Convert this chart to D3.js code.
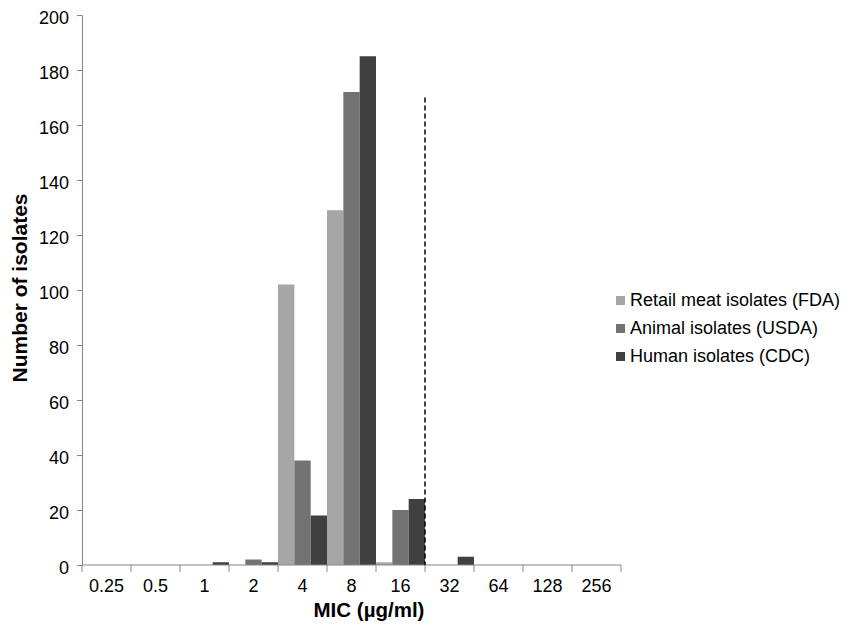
<!DOCTYPE html>
<html>
<head>
<meta charset="utf-8">
<script src="https://cdn.jsdelivr.net/npm/d3@7"></script>
<style>
  body { margin: 0; background: #fff; }
  text { font-family: "Liberation Sans", Arial, sans-serif; }
</style>
</head>
<body>
<div class="chart"></div>
<script>
var svgWidth = 846;
var svgHeight = 628;

// MIC categories and counts per source
var micLabels = ["0.25", "0.5", "1", "2", "4", "8", "16", "32", "64", "128", "256"];
var seriesNames = ["Retail meat isolates (FDA)", "Animal isolates (USDA)", "Human isolates (CDC)"];
var retailMeat = [0, 0, 0, 0, 102, 129, 1, 0, 0, 0, 0];
var animal     = [0, 0, 0, 2, 38, 172, 20, 0, 0, 0, 0];
var human      = [0, 0, 1, 1, 18, 185, 24, 3, 0, 0, 0];
var seriesColors = ["#a6a6a6", "#737373", "#404040"];
var yTicks = [0, 20, 40, 60, 80, 100, 120, 140, 160, 180, 200];
var breakpoint = 170; // height of dashed line

var margin = { top: 15, left: 82 };
var width = 539;
var height = 550;

var svg = d3.select(".chart")
  .append("svg")
  .attr("width", svgWidth)
  .attr("height", svgHeight);

var chartGroup = svg.append("g")
  .attr("transform", `translate(${margin.left}, ${margin.top})`);

var x_scale = d3.scaleBand()
  .domain(micLabels)
  .range([0, width])
  .padding(0);

var x_inner = d3.scaleBand()
  .domain(d3.range(seriesNames.length))
  .range([0, x_scale.bandwidth()])
  .padding(0);

var y_scale = d3.scaleLinear()
  .domain([0, 200])
  .range([height, 0]);

var allSeries = [retailMeat, animal, human];

// bars
allSeries.forEach(function (values, si) {
  chartGroup.append("g")
    .selectAll("rect")
    .data(values)
    .enter()
    .append("rect")
    .attr("x", (d, i) => x_scale(micLabels[i]) + x_inner(si))
    .attr("y", d => y_scale(d))
    .attr("width", x_inner.bandwidth())
    .attr("height", d => height - y_scale(d))
    .attr("fill", seriesColors[si]);
});

// y axis
var leftAxis = d3.axisLeft(y_scale).tickValues(yTicks).tickSize(5).tickPadding(8);
var yG = chartGroup.append("g").call(leftAxis);
yG.select(".domain").attr("stroke", "#868686");
yG.selectAll(".tick line").attr("stroke", "#868686");
yG.selectAll(".tick text")
  .attr("font-size", 18)
  .attr("fill", "#000")
  .attr("dy", "0.45em")
  .style("font-family", "Liberation Sans, Arial, sans-serif");

// x axis with ticks at category boundaries
var xG = chartGroup.append("g")
  .attr("transform", `translate(0, ${height})`);
xG.append("line")
  .attr("x1", 0).attr("x2", width)
  .attr("stroke", "#868686");
xG.selectAll(".bt")
  .data(d3.range(micLabels.length + 1))
  .enter()
  .append("line")
  .attr("x1", i => i * x_scale.step())
  .attr("x2", i => i * x_scale.step())
  .attr("y1", 0).attr("y2", 7)
  .attr("stroke", "#868686");
xG.selectAll(".lbl")
  .data(micLabels)
  .enter()
  .append("text")
  .attr("x", d => x_scale(d) + x_scale.bandwidth() / 2)
  .attr("y", 27)
  .attr("text-anchor", "middle")
  .attr("font-size", 18)
  .text(d => d);

// dashed breakpoint line between 16 and 32
var bx = x_scale("32");
chartGroup.append("line")
  .attr("x1", bx).attr("x2", bx)
  .attr("y1", y_scale(breakpoint)).attr("y2", height)
  .attr("stroke", "#000")
  .attr("stroke-width", 1.5)
  .attr("stroke-dasharray", "5,3");

// axis titles
svg.append("text")
  .attr("transform", "translate(27, 288) rotate(-90)")
  .attr("text-anchor", "middle")
  .attr("font-size", 21)
  .attr("font-weight", "bold")
  .text("Number of isolates");

svg.append("text")
  .attr("x", 369)
  .attr("y", 617)
  .attr("text-anchor", "middle")
  .attr("font-size", 20.5)
  .attr("font-weight", "bold")
  .text("MIC (µg/ml)");

// legend
var legend = svg.append("g").attr("transform", "translate(616, 296)");
seriesNames.forEach(function (name, i) {
  var row = legend.append("g").attr("transform", `translate(0, ${i * 28})`);
  row.append("rect")
    .attr("x", 0).attr("y", 0)
    .attr("width", 9).attr("height", 9)
    .attr("fill", seriesColors[i]);
  row.append("text")
    .attr("x", 14).attr("y", 10)
    .attr("font-size", 18)
    .text(name);
});
</script>
</body>
</html>
